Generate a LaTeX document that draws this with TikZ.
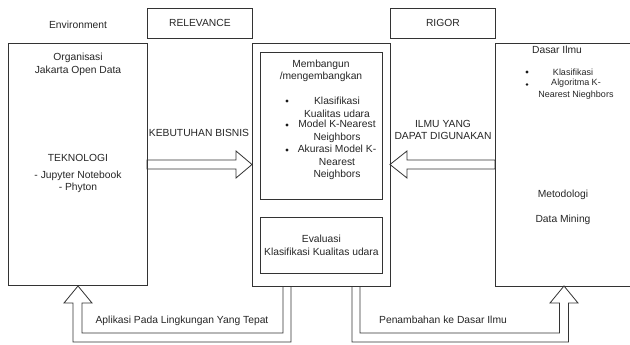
\documentclass[tikz,border=0pt]{standalone}
\usepackage{fontspec}
\setmainfont{Liberation Sans}
\begin{document}
\begin{tikzpicture}[x=1pt,y=-1pt,
  box/.style={draw=black!80, line width=0.8pt, inner sep=0pt},
  txt/.style={font=\fontsize{10.3}{12.6}\selectfont, text=black!85, align=center, inner sep=0pt},
  small/.style={font=\fontsize{9}{12}\selectfont, text=black!85, align=center, inner sep=0pt},
  blk/.style={draw=black!80, line width=0.8pt, line join=miter},
  dot/.style={fill=black!90}]
\clip (0,0) rectangle (630,345);
\fill[white] (0,0) rectangle (630,345);
% boxes
\node[box, anchor=north west, minimum width=139pt, minimum height=242pt] (env) at (8,43) {};
\node[box, txt, anchor=north west, minimum width=105pt, minimum height=30pt] (rel) at (147,8) {RELEVANCE};
\node[box, anchor=north west, minimum width=138pt, minimum height=243pt] (center) at (252,43) {};
\node[box, txt, anchor=north west, minimum width=105pt, minimum height=30pt] (rig) at (390,8) {RIGOR};
\node[box, anchor=north west, minimum width=150pt, minimum height=243pt] (dasar) at (495,43) {};
\node[box, anchor=north west, minimum width=122pt, minimum height=147pt] (build) at (260,52) {};
\node[box, txt, anchor=north west, minimum width=122pt, minimum height=56pt] (eval) at (260,217) {Evaluasi\\Klasifikasi Kualitas udara};
% left texts
\node[txt] (envlbl) at (78,25) {Environment};
\node[txt] (org) at (78,64.5) {Organisasi\\Jakarta Open Data};
\node[txt] (tek) at (78,158) {TEKNOLOGI};
\node[txt] (tools) at (78,182) {- Jupyter Notebook\\- Phyton};
% center texts
\node[txt] (mb) at (321,71) {Membangun\\/mengembangkan};
\node[txt] (l1) at (337,107.5) {Klasifikasi\\Kualitas udara};
\node[txt] (l2) at (337,131.5) {Model K-Nearest\\Neighbors};
\node[txt] (l3) at (337,162.5) {Akurasi Model K-\\Nearest\\Neighbors};
\fill[dot] (287,101) circle (1.7);
\fill[dot] (287,125) circle (1.7);
\fill[dot] (287,150) circle (1.7);
% right texts
\node[txt] (di) at (557,50) {Dasar Ilmu};
\node[small] (k1) at (573,72) {Klasifikasi};
\node[small] (k2) at (576,89) {Algoritma K-\\Nearest Nieghbors};
\fill[dot] (527,72) circle (1.6);
\fill[dot] (527,84.5) circle (1.3);
\node[txt] (meto) at (563,195) {Metodologi};
\node[txt] (dm) at (563,220) {Data Mining};
% block arrows
\draw[blk] (147,160) -- (236,160) -- (236,151) -- (252,164.5) -- (236,178) -- (236,169) -- (147,169) -- cycle;
\draw[blk] (495,160) -- (407,160) -- (407,151) -- (390,164.5) -- (407,178) -- (407,169) -- (495,169) -- cycle;
\draw[blk] (291,286) -- (291,342) -- (73,342) -- (73,303) -- (64,303) -- (78,286) -- (92,303) -- (82,303) -- (82,333) -- (283,333) -- (283,286);
\draw[blk] (352,286) -- (352,342) -- (568.5,342) -- (568.5,303) -- (578,303) -- (564,286) -- (550,303) -- (559.5,303) -- (559.5,333) -- (360,333) -- (360,286);
% arrow labels
\node[txt] (kb) at (199,133) {KEBUTUHAN BISNIS};
\node[txt] (ilmu) at (443,130) {ILMU YANG\\DAPAT DIGUNAKAN};
\node[txt] (apl) at (182,321) {Aplikasi Pada Lingkungan Yang Tepat};
\node[txt] (pen) at (443,320) {Penambahan ke Dasar Ilmu};
\end{tikzpicture}
\end{document}
